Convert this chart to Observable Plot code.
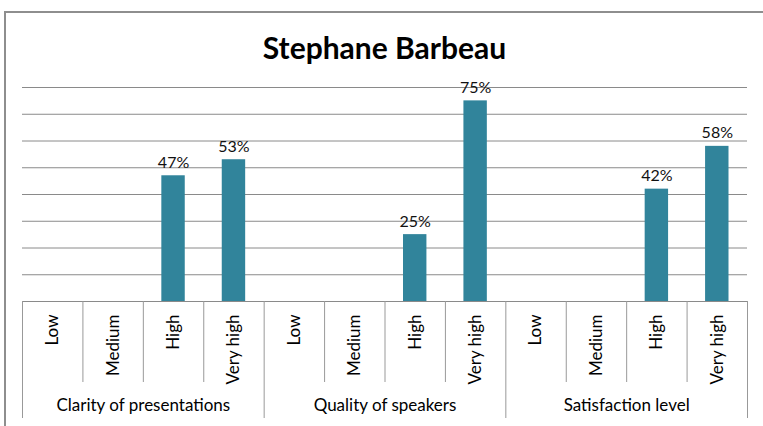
<!DOCTYPE html>
<html>
<head>
<meta charset="utf-8">
<script src="https://cdn.jsdelivr.net/npm/d3@7"></script>
<script src="https://cdn.jsdelivr.net/npm/@observablehq/plot@0.6"></script>
<style>
  html, body { margin: 0; padding: 0; background: #fff; }
  body { width: 763px; height: 426px; overflow: hidden; position: relative; font-family: Lato, "Open Sans", sans-serif; }
  #frame { position: absolute; left: 4px; top: 11px; width: 770px; height: 430px;
           border-left: 2px solid #8e8e8e; border-top: 2px solid #8e8e8e; }
  #title { position: absolute; left: 0; width: 757px; top: 19px; text-align: center;
           font-size: 30px; line-height: 30px; font-weight: bold; color: #000; }
  #chart { position: absolute; left: 0; top: 50px; }
</style>
</head>
<body>
<div id="frame">
  <div id="title">Stephane Barbeau</div>
  <div id="chart"></div>
</div>
<script>
const title = "Stephane Barbeau";
const groups = ["Clarity of presentations", "Quality of speakers", "Satisfaction level"];
const levels = ["Low", "Medium", "High", "Very high"];
const clarityValues = [null, null, 47, 53];
const qualityValues = [null, null, 25, 75];
const satisfactionValues = [null, null, 42, 58];
const gridTicks = [0, 10, 20, 30, 40, 50, 60, 70, 80];

const seriesByGroup = [clarityValues, qualityValues, satisfactionValues];
const data = [];
groups.forEach((g, gi) => {
  levels.forEach((l, li) => {
    data.push({group: g, level: l, idx: gi * levels.length + li, value: seriesByGroup[gi][li]});
  });
});
const nCats = data.length;
const edges = d3.range(0, nCats + 1);
const groupEdges = edges.filter(e => e % levels.length === 0);
const innerEdges = edges.filter(e => e % levels.length !== 0);
const centers = data.map(d => d.idx + 0.5);
const groupCenters = groups.map((g, i) => i * levels.length + levels.length / 2);
const withValues = data.filter(d => d.value != null);

const font = "Lato, 'Open Sans', sans-serif";

const chart = Plot.plot({
  width: 757,
  height: 363,
  marginTop: 24,
  marginBottom: 125,
  marginLeft: 16,
  marginRight: 16,
  style: {fontFamily: font, color: "#000", background: "transparent", overflow: "visible"},
  x: {type: "linear", domain: [0, nCats], axis: null},
  y: {domain: [0, 80], axis: null},
  marks: [
    Plot.ruleY(gridTicks, {stroke: "#8a8a8a", strokeWidth: 1}),
    Plot.rectY(withValues, {x: "idx", interval: 1, y: "value", fill: "#31849b", insetLeft: 18.5, insetRight: 18.5}),
    Plot.text(withValues, {x: d => d.idx + 0.5, y: "value", text: d => d.value + "%", dy: -13,
      fontSize: 16, fill: "#111", fontFamily: font}),
    Plot.axisX(innerEdges, {tickSize: 81, tickFormat: () => "", label: null, stroke: "#999", strokeOpacity: 1}),
    Plot.axisX(groupEdges, {tickSize: 117, tickFormat: () => "", label: null, stroke: "#999", strokeOpacity: 1}),
    Plot.axisX(centers, {tickSize: 0, tickPadding: 13, tickRotate: -90, label: null,
      tickFormat: (d) => levels[Math.floor(d) % levels.length], fontSize: 17, fill: "#000", fontFamily: font}),
    Plot.axisX(groupCenters, {tickSize: 0, tickPadding: 97, label: null,
      tickFormat: (d) => groups[Math.floor(d / levels.length)], fontSize: 17, fill: "#000", fontFamily: font})
  ]
});
document.getElementById("chart").appendChild(chart);
</script>
</body>
</html>
